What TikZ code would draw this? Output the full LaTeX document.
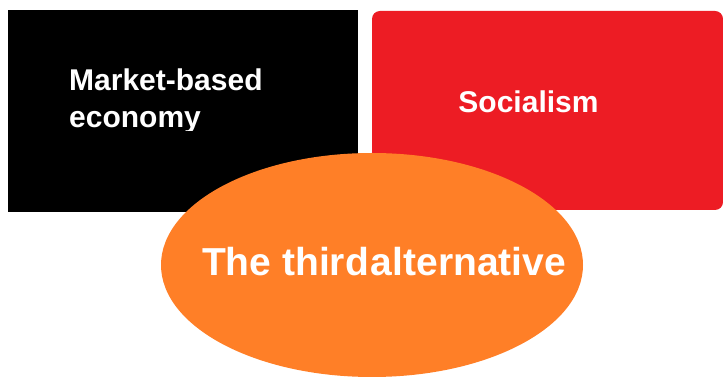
\documentclass[tikz,border=0pt]{standalone}
\usepackage{fontspec}
\setmainfont{Liberation Sans}
\usetikzlibrary{shapes.geometric}
\definecolor{paintred}{HTML}{ED1C24}
\definecolor{paintorange}{HTML}{FF7F27}
\tikzset{
  x=1pt, y=1pt,
  panel/.style={draw=none, inner sep=0pt},
  label/.style={text=white, font=\bfseries, inner sep=0pt, align=left},
}
\begin{document}
\begin{tikzpicture}
  \useasboundingbox[fill=white] (0,0) rectangle (723,380);

  % left panel: market economy (its second line is cut at the descenders)
  \fill[black] (8,168) rectangle (358,370);
  \begin{scope}
    \clip (8,249) rectangle (358,370);
    \node[label, anchor=base west, font=\bfseries\fontsize{30}{37}\selectfont]
      (market) at (69,252) {Market-based\\economy};
  \end{scope}

  % right panel: socialism
  \fill[paintred, rounded corners=8pt] (372,170) rectangle (723,369);
  \node[label, anchor=base, font=\bfseries\fontsize{30}{37}\selectfont]
    (social) at (528.5,267) {Socialism};

  % the overlapping ellipse
  \node[panel, ellipse, fill=paintorange, minimum width=422, minimum height=224]
    (third) at (372,115) {};
  \node[label, anchor=base, font=\bfseries\fontsize{39}{45}\selectfont]
    (thirdtext) at (384,104) {The third\kern2pt alternative};
\end{tikzpicture}
\end{document}
